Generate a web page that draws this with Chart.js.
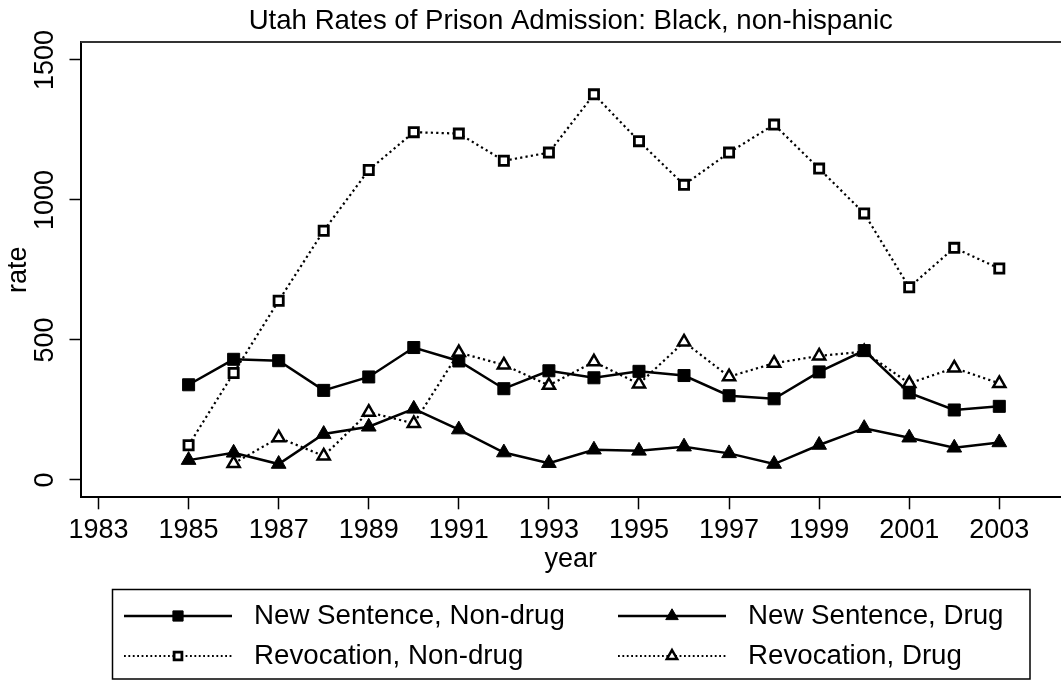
<!DOCTYPE html>
<html>
<head>
<meta charset="utf-8">
<script src="https://cdn.jsdelivr.net/npm/chart.js@4.4.1/dist/chart.umd.min.js"></script>
<style>
  html, body { margin: 0; padding: 0; background: #fff; }
  #wrap { width: 1061px; height: 681px; }
</style>
</head>
<body>
<div id="wrap"><canvas id="chart" width="1061" height="681"></canvas></div>
<script>
const years = [1985, 1986, 1987, 1988, 1989, 1990, 1991, 1992, 1993, 1994, 1995, 1996, 1997, 1998, 1999, 2000, 2001, 2002, 2003];
const newSentenceNonDrug = [340, 431, 426, 320, 368, 473, 425, 326, 390, 365, 388, 373, 301, 290, 386, 462, 311, 250, 263];
const newSentenceDrug = [71, 97, 57, 164, 190, 254, 180, 98, 60, 108, 104, 119, 95, 57, 125, 185, 151, 115, 134];
const revocationNonDrug = [124, 382, 640, 890, 1107, 1242, 1237, 1140, 1169, 1377, 1210, 1054, 1169, 1269, 1112, 952, 688, 829, 755];
const revocationDrug = [null, 59, 151, 86, 242, 202, 455, 411, 338, 422, 343, 493, 369, 417, 443, 458, 345, 400, 345];
const xTickValues = [1983, 1985, 1987, 1989, 1991, 1993, 1995, 1997, 1999, 2001, 2003];
const yTickValues = [0, 500, 1000, 1500];

const FONT = '"Liberation Sans", Arial, Helvetica, sans-serif';
const INK = '#000';

// title centred over the plot region, plus the top edge of the plot frame
const plotTitlePlugin = {
  id: 'plotTitle',
  afterDraw(chart, _args, opts) {
    const { ctx, chartArea } = chart;
    ctx.save();
    ctx.font = `${opts.size}px ${FONT}`;
    ctx.fillStyle = INK;
    ctx.textAlign = 'center';
    ctx.textBaseline = 'middle';
    ctx.fillText(opts.text, (chartArea.left + chartArea.right) / 2, opts.y);
    ctx.strokeStyle = '#333';
    ctx.lineWidth = 2;
    ctx.beginPath();
    ctx.moveTo(chartArea.left, chartArea.top);
    ctx.lineTo(chartArea.right, chartArea.top);
    ctx.stroke();
    ctx.restore();
  }
};

// boxed two-column legend below the x axis
const boxLegendPlugin = {
  id: 'boxLegend',
  afterDraw(chart, _args, opts) {
    const ctx = chart.ctx;
    const b = opts.box;
    ctx.save();
    ctx.strokeStyle = INK;
    ctx.lineWidth = 1.5;
    ctx.strokeRect(b.left, b.top, b.right - b.left, b.bottom - b.top);
    ctx.font = `${opts.size}px ${FONT}`;
    ctx.textBaseline = 'middle';
    ctx.textAlign = 'left';
    chart.data.datasets.forEach((ds, i) => {
      const x0 = opts.columns[i % 2];
      const y = opts.rows[Math.floor(i / 2)];
      ctx.strokeStyle = INK;
      ctx.lineWidth = ds.borderDash.length ? 1.8 : 2.5;
      ctx.setLineDash(ds.borderDash.length ? [1.8, 2.6] : []);
      ctx.beginPath();
      ctx.moveTo(x0, y);
      ctx.lineTo(x0 + opts.sampleLength, y);
      ctx.stroke();
      ctx.setLineDash([]);
      ctx.fillStyle = ds.pointBackgroundColor;
      ctx.lineWidth = ds.pointBorderWidth;
      Chart.helpers.drawPoint(ctx, {
        pointStyle: ds.pointStyle,
        radius: ds.pointRadius * 0.85,
        rotation: 0,
        borderWidth: ds.pointBorderWidth
      }, x0 + opts.sampleLength / 2, y);
      ctx.fillStyle = INK;
      ctx.fillText(ds.label, x0 + opts.textGap, y);
    });
    ctx.restore();
  }
};

function series(label, values, style) {
  const data = [];
  years.forEach((year, i) => {
    if (values[i] != null) data.push({ x: year, y: values[i] });
  });
  return {
    label,
    data,
    borderColor: INK,
    pointBorderColor: INK,
    borderDash: [],
    tension: 0,
    ...style
  };
}

const dotted = { borderDash: [2.2, 3.2], borderWidth: 2.2 };

Chart.register(plotTitlePlugin, boxLegendPlugin);
Chart.defaults.font.family = FONT;

new Chart(document.getElementById('chart'), {
  type: 'line',
  data: {
    datasets: [
      series('New Sentence, Non-drug', newSentenceNonDrug, {
        borderWidth: 2.5, pointStyle: 'rect', pointRadius: 8.5, pointBackgroundColor: INK, pointBorderWidth: 1
      }),
      series('New Sentence, Drug', newSentenceDrug, {
        borderWidth: 2.5, pointStyle: 'triangle', pointRadius: 8.5, pointBackgroundColor: INK, pointBorderWidth: 1
      }),
      series('Revocation, Non-drug', revocationNonDrug, {
        ...dotted, pointStyle: 'rect', pointRadius: 6.5, pointBackgroundColor: '#fff', pointBorderWidth: 2.8
      }),
      series('Revocation, Drug', revocationDrug, {
        ...dotted, pointStyle: 'triangle', pointRadius: 7, pointBackgroundColor: '#fff', pointBorderWidth: 2.5
      })
    ]
  },
  options: {
    responsive: false,
    devicePixelRatio: 1,
    animation: false,
    layout: { autoPadding: false, padding: { top: 42, right: 0, bottom: 91.7, left: 0 } },
    plugins: {
      legend: { display: false },
      tooltip: { enabled: false },
      plotTitle: { text: 'Utah Rates of Prison Admission: Black, non-hispanic', size: 27.6, y: 21 },
      boxLegend: {
        box: { left: 112.5, top: 589.5, right: 1030, bottom: 679 },
        columns: [124, 618],
        rows: [616, 656],
        sampleLength: 108,
        textGap: 130,
        size: 27.7
      }
    },
    scales: {
      x: {
        type: 'linear',
        min: 1982.6,
        max: 2004.37,
        afterBuildTicks: (scale) => { scale.ticks = xTickValues.map((value) => ({ value })); },
        afterFit: (scale) => { scale.height = 92; },
        ticks: { callback: (v) => String(v), color: INK, font: { size: 27 }, padding: 5, maxRotation: 0, autoSkip: false },
        grid: { display: true, drawOnChartArea: false, drawTicks: true, tickLength: 12, tickWidth: 1.5, tickColor: INK },
        border: { display: true, color: INK, width: 2 },
        title: { display: true, text: 'year', color: INK, font: { size: 27 }, padding: { top: 0, bottom: 14 } }
      },
      y: {
        type: 'linear',
        min: -61.8,
        max: 1564,
        afterBuildTicks: (scale) => { scale.ticks = yTickValues.map((value) => ({ value })); },
        afterFit: (scale) => { scale.width = 80.5; },
        ticks: { callback: (v) => String(v), color: INK, font: { size: 27 }, minRotation: 90, maxRotation: 90, crossAlign: 'center', padding: -6 },
        grid: { display: true, drawOnChartArea: false, drawTicks: true, tickLength: 11, tickWidth: 1.5, tickColor: INK },
        border: { display: true, color: INK, width: 2 },
        title: { display: true, text: 'rate', color: INK, font: { size: 27 }, padding: { top: 2, bottom: 0 } }
      }
    }
  }
});
</script>
</body>
</html>
